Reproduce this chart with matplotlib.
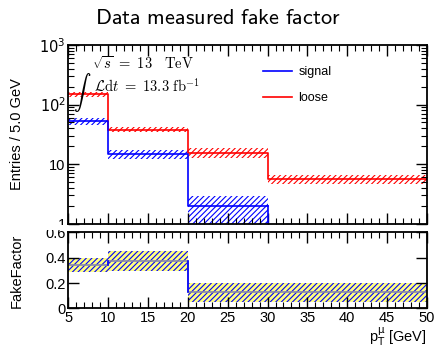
import numpy as np
import matplotlib
matplotlib.use('Agg')
import matplotlib.pyplot as plt
from matplotlib.ticker import FixedLocator, MultipleLocator, LogLocator, NullFormatter
from matplotlib.transforms import Bbox

plt.rcParams['font.family'] = ['Liberation Sans', 'DejaVu Sans']
plt.rcParams['hatch.linewidth'] = 0.8

# data
edges = [5, 10, 20, 30, 50]
signal = [52, 14.7, 1.95, 0]
signal_err = [7, 2.3, 1.0, 0]
loose = [148, 38, 15.6, 5.7]
loose_err = [13, 3.5, 3.0, 1.0]

ff_edges = [5, 10, 20, 50]
ff = [0.344, 0.375, 0.126]
ff_err = [0.057, 0.078, 0.074]

fig = plt.figure(figsize=(4.36, 3.48), dpi=100)
ax = fig.add_axes([0.157, 0.357, 0.822, 0.514])
rx = fig.add_axes([0.157, 0.114, 0.822, 0.218])


def step_hist(a, e, v, err, color, zero_skip=False):
    e = np.array(e, float)
    v = np.array(v, float)
    err = np.array(err, float)
    for i in range(len(v)):
        if zero_skip and v[i] <= 0:
            continue
        a.fill_between([e[i], e[i + 1]], v[i] - err[i], v[i] + err[i],
                       facecolor='none', edgecolor=color, hatch='//////', linewidth=0)
    vv = v.copy()
    if zero_skip:
        vv[vv <= 0] = np.nan
    xs = np.repeat(e, 2)[1:-1]
    ys = np.repeat(vv, 2)
    a.plot(xs, ys, color=color, lw=1.2)
    # vertical drop to the floor when a bin is empty
    for i in range(len(v)):
        if zero_skip and v[i] <= 0 and i > 0:
            a.plot([e[i], e[i]], [v[i - 1], 1e-3], color=color, lw=1.2)


step_hist(ax, edges, loose, loose_err, 'red')
step_hist(ax, edges, signal, signal_err, 'blue', zero_skip=True)

ax.set_yscale('log')
ax.set_xlim(5, 50)
ax.set_ylim(1, 1000)
ax.yaxis.set_major_locator(FixedLocator([1, 10, 100, 1000]))
ax.set_yticklabels(['1', '10', r'$10^2$', r'$10^3$'])
ax.yaxis.set_minor_locator(LogLocator(base=10, subs=np.arange(2, 10)))
ax.yaxis.set_minor_formatter(NullFormatter())
ax.xaxis.set_major_locator(MultipleLocator(5))
ax.xaxis.set_minor_locator(MultipleLocator(1))
ax.set_xticklabels([])
ax.set_ylabel('Entries / 5.0 GeV', fontsize=10.5)
ax.yaxis.set_label_coords(-0.125, 0.5)

ax.plot([], [], color='blue', lw=1.2, label='signal')
ax.plot([], [], color='red', lw=1.2, label='loose')
ax.legend(loc='upper left', bbox_to_anchor=(0.512, 0.945), frameon=False, fontsize=9,
          handlelength=2.3, labelspacing=1.15, handletextpad=0.5)

ax.text(0.065, 0.865, r'$\sqrt{s}\ =\ 13\ \ \ \mathrm{TeV}$', transform=ax.transAxes,
        fontsize=10.5, math_fontfamily='cm')
ax.text(0.012, 0.70, r'$\int$', transform=ax.transAxes,
        fontsize=12.5, math_fontfamily='cm')
ax.text(0.07, 0.738, r'$\mathcal{L}\mathrm{d}t\ =\ 13.3\ \mathrm{fb}^{-1}$',
        transform=ax.transAxes, fontsize=10.5, math_fontfamily='cm')

fig.text(0.5, 0.948, r'$\mathsf{Data\ measured\ fake\ factor}$', ha='center',
         va='center', fontsize=16, math_fontfamily='cm')

# ratio panel
fe = np.array(ff_edges, float)
for i in range(len(ff)):
    rx.fill_between([fe[i], fe[i + 1]], ff[i] - ff_err[i], ff[i] + ff_err[i],
                    facecolor='#ffff80', edgecolor='blue', hatch='//////', linewidth=0)
xs = np.repeat(fe, 2)[1:-1]
ys = np.repeat(ff, 2)
rx.plot(xs, ys, color='#8888a8', lw=1.2)
for i in range(1, len(ff)):
    rx.plot([fe[i], fe[i]], [ff[i - 1], ff[i]], color='blue', lw=1.2)

rx.set_xlim(5, 50)
rx.set_ylim(0, 0.6)
rx.xaxis.set_major_locator(MultipleLocator(5))
rx.xaxis.set_minor_locator(MultipleLocator(1))
rx.yaxis.set_major_locator(FixedLocator([0, 0.2, 0.4, 0.6]))
rx.set_yticklabels(['0', '0.2', '0.4', '0.6'])
rx.set_ylabel('FakeFactor', fontsize=10.5)
rx.yaxis.set_label_coords(-0.125, 0.5)
rx.set_xlabel(r'p$_\mathrm{T}^\mathrm{\mu}$ [GeV]', fontsize=10.5, loc='right')
rx.xaxis.set_label_coords(1.0, -0.225)

for a in (ax, rx):
    a.tick_params(which='both', direction='in', top=True, right=True, labelsize=10.5, pad=2)
    a.tick_params(which='major', length=8, width=1)
    a.tick_params(which='minor', length=4, width=0.8)
    for s in a.spines.values():
        s.set_linewidth(1.3)

# clip tick labels at the pad borders like the original
fig.canvas.draw()
top_box = Bbox.from_extents(0, 348 - 225, 436, 348)
bot_box = Bbox.from_extents(0, 0, 436, 348 - 230)
for lbl in ax.get_yticklabels():
    lbl.set_clip_box(top_box)
    lbl.set_clip_on(True)
for lbl in rx.get_yticklabels():
    lbl.set_clip_box(bot_box)
    lbl.set_clip_on(True)

fig.savefig('out.png', dpi=100)
